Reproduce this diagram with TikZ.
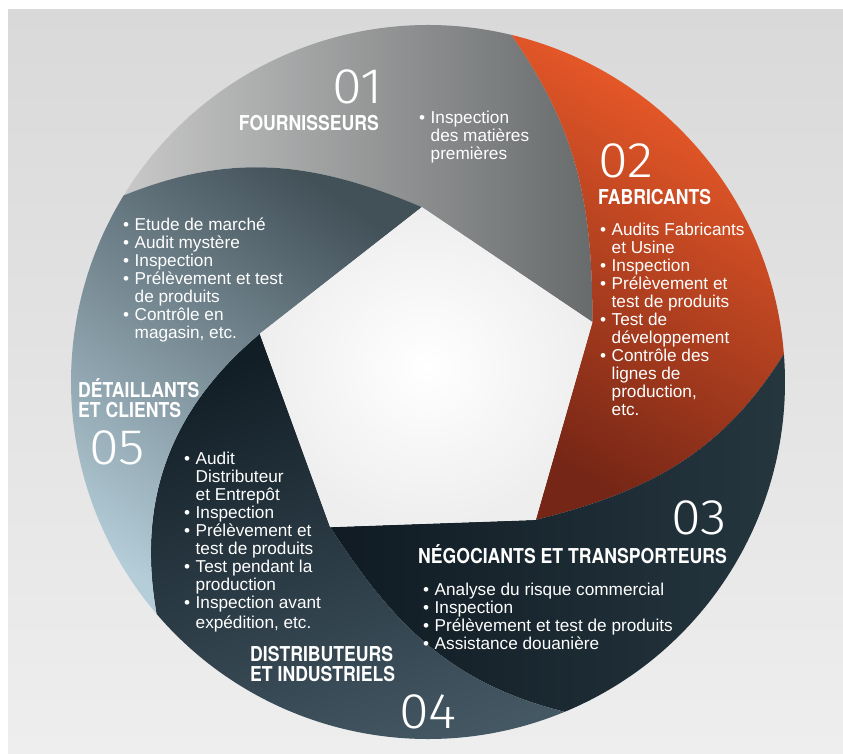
\documentclass[tikz,border=0pt]{standalone}
\usepackage{fontspec}
\setmainfont{Liberation Sans}
\newfontfamily\titlefont[FakeStretch=0.86]{TeX Gyre Heros}
\newfontfamily\numfont[FakeStretch=1.08]{Fira Sans Light}

\definecolor{bgtop}{RGB}{217,217,217}
\definecolor{bgbot}{RGB}{238,238,238}
\definecolor{greyL}{RGB}{200,200,200}
\definecolor{greyD}{RGB}{104,107,108}
\definecolor{orangeT}{RGB}{242,93,42}
\definecolor{orangeM}{RGB}{214,78,36}
\definecolor{orangeB}{RGB}{118,38,22}
\definecolor{navyL}{RGB}{16,27,35}
\definecolor{navyR}{RGB}{38,55,64}
\definecolor{slateT}{RGB}{18,30,38}
\definecolor{slateB}{RGB}{68,88,100}
\definecolor{blueT}{RGB}{66,80,88}
\definecolor{blueM}{RGB}{134,153,164}
\definecolor{blueB}{RGB}{180,205,216}
\definecolor{holeO}{RGB}{238,238,238}

\newcommand{\itm}{\makebox[11.5pt][l]{\textbullet}}
\newcommand{\cnt}{\hspace*{11.5pt}}

\tikzset{
  title/.style={text=white, inner sep=0pt, align=left,
    font=\titlefont\bfseries\fontsize{20.5}{20}\selectfont},
  number/.style={text=white, inner sep=0pt,
    font=\numfont\fontsize{50}{50}\selectfont},
  items/.style={text=white, inner sep=0pt, align=left,
    font=\fontsize{17.2}{18}\selectfont},
}

\begin{document}
\begin{tikzpicture}[x=1pt,y=1pt]
\useasboundingbox (0,0) rectangle (843,-753);
\fill[white] (0,0) rectangle (843,-753);
\shade[top color=bgtop, bottom color=bgbot] (8,-9) rectangle (843,-753);

\begin{scope}[shift={(428,-382)}]
% corners of the opening and points on the rim
\foreach \i/\a in {1/92,2/20,3/-52,4/-124,5/-196}{
  \coordinate (v\i) at (\a:175);
  \coordinate (p\i) at ({\a+56.5}:357);
}
% blades
\shade[left color=greyL, right color=greyD]
  (v1) -- (v2) to[out=90,in=305] (p2) arc[start angle=76.5,end angle=148.5,radius=357]
  to[out=22,in=157] (v1) -- cycle;
\shade[top color=orangeT, middle color=orangeM, bottom color=orangeB, shading angle=-30]
  (v2) -- (v3) to[out=14,in=238] (p3) arc[start angle=4.5,end angle=76.5,radius=357]
  to[out=305,in=90] (v2) -- cycle;
\shade[left color=navyL, right color=navyR]
  (v3) -- (v4) to[out=-57,in=166] (p4) arc[start angle=-67.5,end angle=4.5,radius=357]
  to[out=238,in=14] (v3) -- cycle;
\shade[top color=slateT, bottom color=slateB, shading angle=20]
  (v4) -- (v5) to[out=220,in=100] (p5) arc[start angle=-139.5,end angle=-67.5,radius=357]
  to[out=166,in=-57] (v4) -- cycle;
\shade[top color=blueT, middle color=blueM, bottom color=blueB, shading angle=-35]
  (v5) -- (v1) to[out=157,in=22] (p1) arc[start angle=148.5,end angle=220.5,radius=357]
  to[out=100,in=220] (v5) -- cycle;
% opening
\shade[inner color=white, outer color=holeO] (v1) -- (v2) -- (v3) -- (v4) -- (v5) -- cycle;
\end{scope}

% 01
\node[number, anchor=base east] (n01) at (383,-103) {01};
\node[title, anchor=base east] (t01) at (379,-130) {FOURNISSEURS};
\node[items, anchor=base west] (l01) at (419,-159) {\itm Inspection\\\cnt des matières\\\cnt premières};

% 02
\node[number, anchor=base west] (n02) at (598,-177) {02};
\node[title, anchor=base west] (t02) at (598,-204) {FABRICANTS};
\node[items, anchor=base west] (l02) at (600,-415) {\itm Audits Fabricants\\\cnt et Usine\\\itm Inspection\\\itm Prélèvement et\\\cnt test de produits\\\itm Test de\\\cnt développement\\\itm Contrôle des\\\cnt lignes de\\\cnt production,\\\cnt etc.};

% 03
\node[number, anchor=base east] (n03) at (727,-534) {03};
\node[title, anchor=base east] (t03) at (727,-563) {NÉGOCIANTS ET TRANSPORTEURS};
\node[items, anchor=base west] (l03) at (423,-649) {\itm Analyse du risque commercial\\\itm Inspection\\\itm Prélèvement et test de produits\\\itm Assistance douanière};

% 04
\node[number, anchor=base west] (n04) at (399,-728) {04};
\node[title, anchor=base west] (t04) at (250,-681) {DISTRIBUTEURS\\ET INDUSTRIELS};
\node[items, anchor=base west] (l04) at (184,-628) {\itm Audit\\\cnt Distributeur\\\cnt et Entrepôt\\\itm Inspection\\\itm Prélèvement et\\\cnt test de produits\\\itm Test pendant la\\\cnt production\\\itm Inspection avant\\[2pt]\cnt expédition, etc.};

% 05
\node[title, anchor=base west] (t05) at (78,-417) {DÉTAILLANTS\\ET CLIENTS};
\node[number, anchor=base west] (n05) at (89,-464) {05};
\node[items, anchor=base west] (l05) at (123,-338) {\itm Etude de marché\\\itm Audit mystère\\\itm Inspection\\\itm Prélèvement et test\\\cnt de produits\\\itm Contrôle en\\\cnt magasin, etc.};
\end{tikzpicture}
\end{document}
